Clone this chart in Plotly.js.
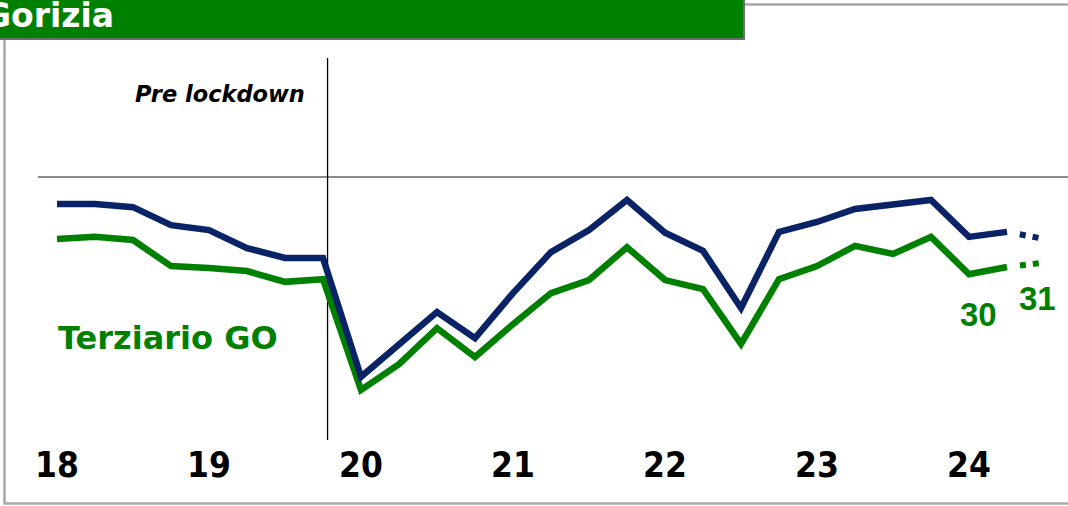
<!DOCTYPE html>
<html>
<head>
<meta charset="utf-8">
<script src="https://cdn.plot.ly/plotly-3.0.1.min.js"></script>
<style>html,body{margin:0;padding:0;background:#fff;}#chart{width:1068px;height:506px;}</style>
</head>
<body>
<div id="chart"></div>
<script>
// Quarters 2018 Q1 .. 2024 Q2 (actual) and 2024 Q3 (forecast)
const quarters = ['I-18','II-18','III-18','IV-18','I-19','II-19','III-19','IV-19',
  'I-20','II-20','III-20','IV-20','I-21','II-21','III-21','IV-21',
  'I-22','II-22','III-22','IV-22','I-23','II-23','III-23','IV-23','I-24','II-24'];
const forecastQuarters = ['II-24','III-24'];
const yearTickQuarters = ['I-18','I-19','I-20','I-21','I-22','I-23','I-24'];
const yearTickLabels = ['18','19','20','21','22','23','24'];

// Navy series (reference) and green series (Terziario GO)
const navyValues = [44.0,44.0,43.3,39.3,38.2,34.2,32.0,32.0,
  5.6,12.7,20.0,14.2,24.2,33.3,38.2,44.9,
  37.6,33.6,20.9,37.8,40.0,42.9,44.0,44.9,36.7,37.8];
const greenValues = [36.2,36.7,36.0,30.2,29.8,29.1,26.7,27.3,
  2.7,8.4,16.4,10.0,17.3,24.2,27.1,34.4,
  27.1,25.1,12.9,27.3,30.2,34.7,32.9,36.7,28.4,30.0];
const navyForecast = [37.8,36.2];
const greenForecast = [30.0,31.0];
const greenLabels = ['30','31'];
const referenceLevel = 50;
const lockdownPosition = 7.12;

const NAVY = '#0a2366', GREEN = '#008000';
const W = 1068, PH = 440;
const xp = px => px / W;
const yp = py => 1 - py / PH;
const dotDash = '0px,13px,6px,7px,6px,200px';

const traces = [
  {x: quarters, y: greenValues, type: 'scatter', mode: 'lines',
   line: {color: GREEN, width: 6.5}, hoverinfo: 'skip'},
  {x: quarters, y: navyValues, type: 'scatter', mode: 'lines',
   line: {color: NAVY, width: 6.5}, hoverinfo: 'skip'},
  {x: forecastQuarters, y: greenForecast, type: 'scatter', mode: 'lines',
   line: {color: GREEN, width: 6, dash: dotDash}, hoverinfo: 'skip'},
  {x: forecastQuarters, y: navyForecast, type: 'scatter', mode: 'lines',
   line: {color: NAVY, width: 6, dash: dotDash}, hoverinfo: 'skip'}
];

const layout = {
  width: 1068, height: 506,
  margin: {l: 0, r: 0, t: 0, b: 66},
  paper_bgcolor: '#ffffff', plot_bgcolor: 'rgba(0,0,0,0)',
  showlegend: false,
  xaxis: {
    type: 'category', categoryorder: 'array', categoryarray: quarters.concat(['III-24']),
    range: [-1.5, 26.605], showgrid: false, zeroline: false, showline: false,
    ticks: '', tickmode: 'array', tickvals: yearTickQuarters, ticktext: yearTickLabels,
    ticklabelstandoff: 1,
    tickfont: {family: '"Liberation Sans Narrow", "DejaVu Sans Condensed", "Liberation Sans", Arial, sans-serif', size: 35, color: '#000', weight: 'bold'}
  },
  yaxis: {range: [-8.444, 89.333], visible: false, showgrid: false, zeroline: false},
  shapes: [
    {type: 'rect', xref: 'paper', yref: 'paper', x0: xp(4.5), x1: xp(1080), y0: yp(503.5), y1: yp(4.5),
     line: {color: '#a8a8a8', width: 2.5}, fillcolor: 'rgba(0,0,0,0)', layer: 'below'},
    {type: 'line', xref: 'paper', yref: 'y', x0: xp(38), x1: 1.01, y0: referenceLevel, y1: referenceLevel,
     line: {color: '#8c8c8c', width: 2}, layer: 'below'},
    {type: 'line', xref: 'x', yref: 'paper', x0: lockdownPosition, x1: lockdownPosition, y0: 0, y1: yp(58),
     line: {color: '#000', width: 1.3}, layer: 'below'},
    {type: 'rect', xref: 'paper', yref: 'paper', x0: xp(-6), x1: xp(744), y0: yp(39), y1: yp(-6),
     line: {color: '#6e6e6e', width: 2}, fillcolor: GREEN, layer: 'above'}
  ],
  annotations: [
    {text: 'Gorizia', xref: 'paper', yref: 'paper', x: xp(-18), y: yp(37), xanchor: 'left', yanchor: 'bottom',
     showarrow: false, font: {family: '"DejaVu Sans", sans-serif', size: 33, color: '#fff', weight: 'bold'}},
    {text: 'Pre lockdown', xref: 'paper', yref: 'paper', x: xp(307), y: yp(94), xanchor: 'right', yanchor: 'middle',
     showarrow: false, font: {family: '"DejaVu Sans", sans-serif', size: 22.5, color: '#000', weight: 'bold', style: 'italic'}},
    {text: 'Terziario GO', xref: 'paper', yref: 'paper', x: xp(56), y: yp(338), xanchor: 'left', yanchor: 'middle',
     showarrow: false, font: {family: '"DejaVu Sans", sans-serif', size: 32, color: GREEN, weight: 'bold'}},
    {text: greenLabels[0], xref: 'x', yref: 'y', x: quarters[quarters.length - 1], y: greenValues[greenValues.length - 1],
     xshift: -29, yshift: -47, showarrow: false,
     font: {family: '"Liberation Sans", Arial, sans-serif', size: 33, color: GREEN, weight: 'bold'}},
    {text: greenLabels[1], xref: 'x', yref: 'y', x: forecastQuarters[1], y: greenForecast[1],
     xshift: -8, yshift: -36, showarrow: false,
     font: {family: '"Liberation Sans", Arial, sans-serif', size: 33, color: GREEN, weight: 'bold'}}
  ]
};

Plotly.newPlot('chart', traces, layout, {displayModeBar: false, staticPlot: true});
</script>
</body>
</html>
